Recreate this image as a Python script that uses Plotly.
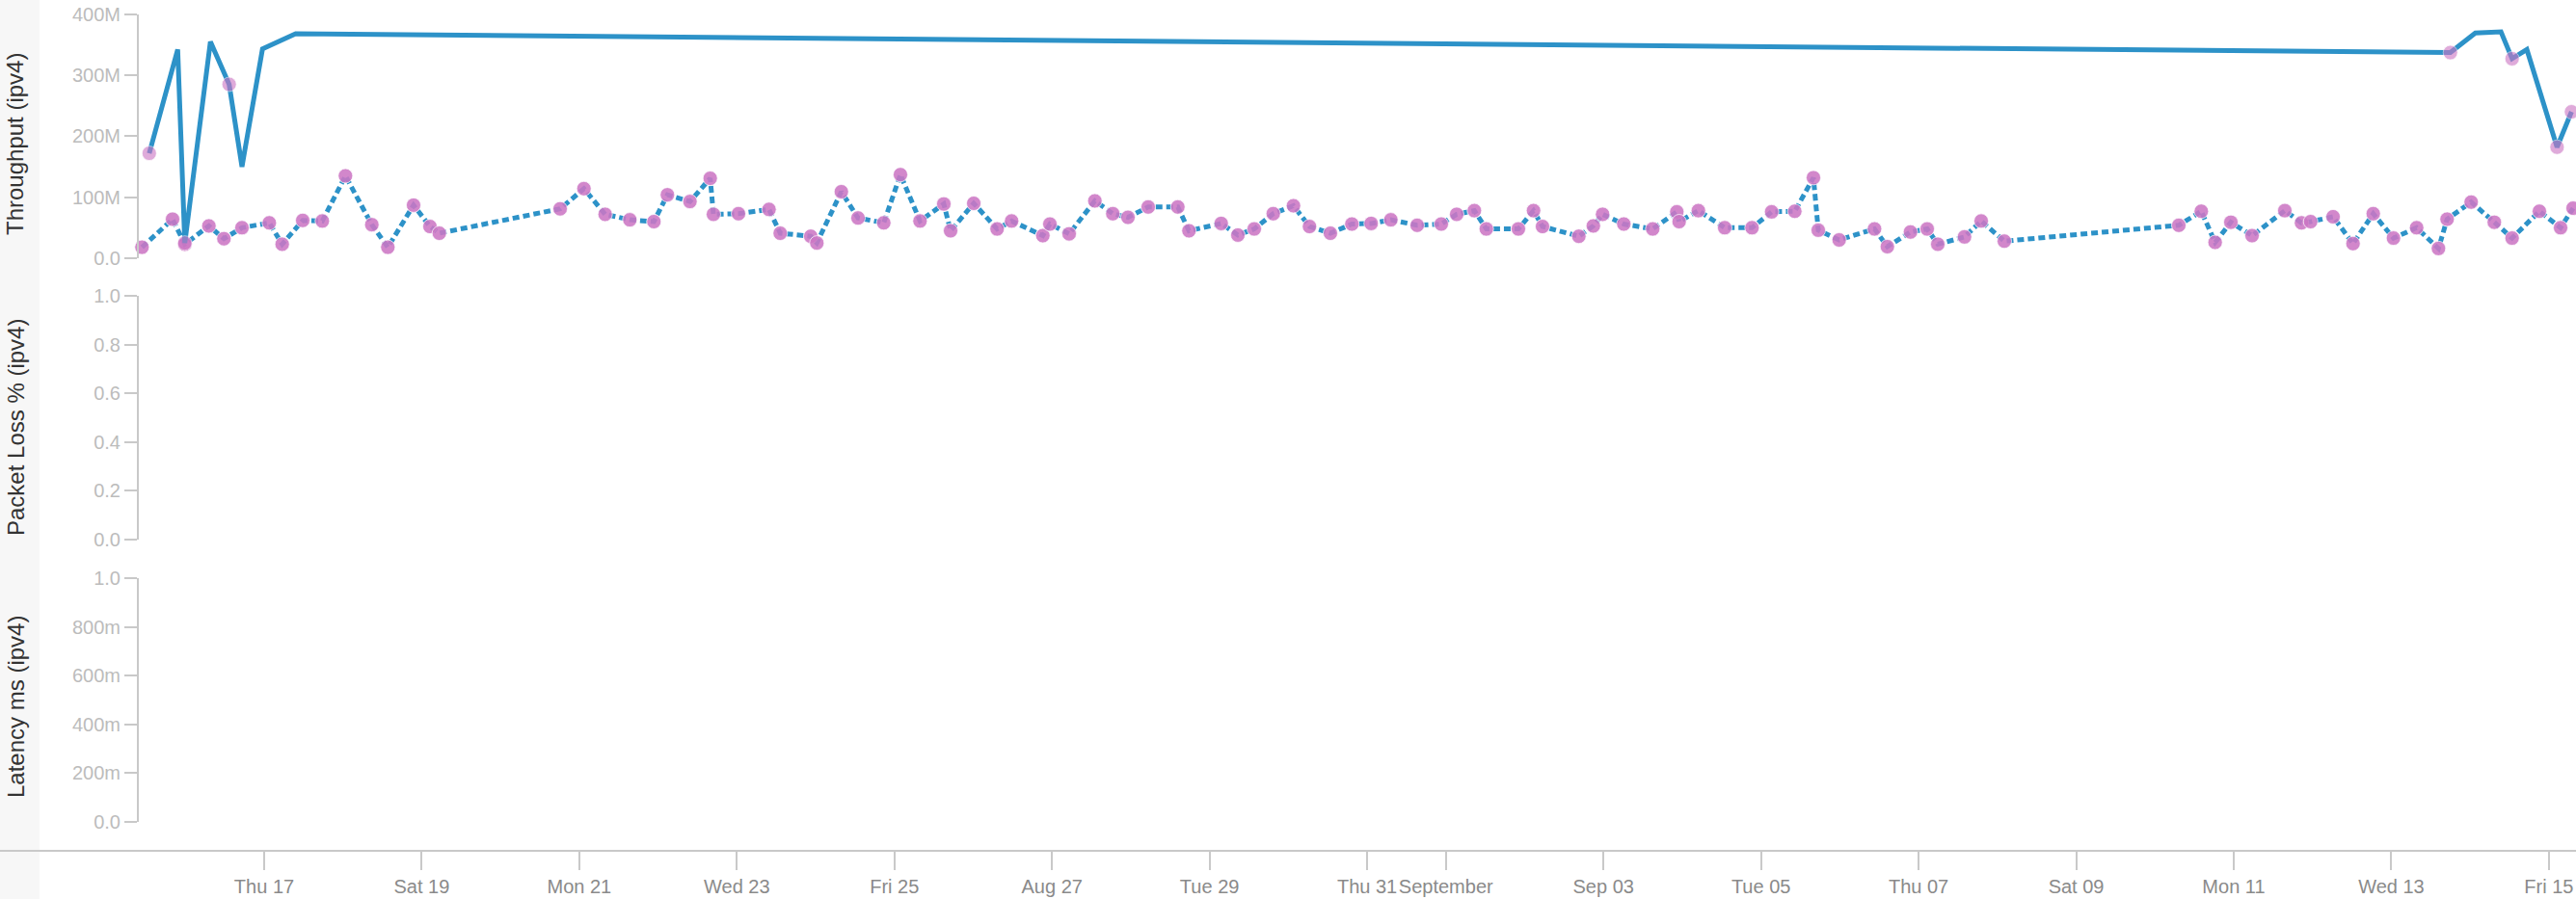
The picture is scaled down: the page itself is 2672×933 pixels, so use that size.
import plotly.graph_objects as go

# ---------------- data ----------------
# Solid throughput series (values in Mbit/s)
solid_times = ["2017-08-15 13:00", "2017-08-15 21:40", "2017-08-15 23:50", "2017-08-16 07:38",
               "2017-08-16 13:20", "2017-08-16 17:15", "2017-08-16 23:30", "2017-08-17 09:36",
               "2017-09-13 18:00", "2017-09-14 01:36", "2017-09-14 09:25", "2017-09-14 12:48",
               "2017-09-14 17:18", "2017-09-15 02:30", "2017-09-15 06:54"]
solid_vals = [172, 342, 25, 355, 285, 150, 343, 368, 337, 369, 371, 327, 342, 182, 240]
solid_marked = [1, 0, 1, 0, 1, 0, 0, 0, 1, 0, 0, 1, 0, 1, 1]

# Dotted throughput series (values in Mbit/s)
dotted_times = [
    "2017-08-15 10:47", "2017-08-15 20:06", "2017-08-15 23:50", "2017-08-16 07:10", "2017-08-16 11:45",
    "2017-08-16 17:15", "2017-08-17 01:34", "2017-08-17 05:30", "2017-08-17 11:45", "2017-08-17 17:43",
    "2017-08-18 00:46", "2017-08-18 08:48", "2017-08-18 13:41", "2017-08-18 21:31", "2017-08-19 02:31",
    "2017-08-19 05:22", "2017-08-20 18:10", "2017-08-21 01:25", "2017-08-21 07:53", "2017-08-21 15:24",
    "2017-08-21 22:44", "2017-08-22 02:51", "2017-08-22 09:43", "2017-08-22 15:53", "2017-08-22 16:52",
    "2017-08-23 00:30", "2017-08-23 09:48", "2017-08-23 13:13", "2017-08-23 22:31", "2017-08-24 00:22",
    "2017-08-24 07:50", "2017-08-24 12:55", "2017-08-24 20:45", "2017-08-25 01:50", "2017-08-25 07:48",
    "2017-08-25 15:03", "2017-08-25 17:07", "2017-08-26 00:10", "2017-08-26 07:17", "2017-08-26 11:42",
    "2017-08-26 21:13", "2017-08-26 23:22", "2017-08-27 05:14", "2017-08-27 13:04", "2017-08-27 18:32",
    "2017-08-27 23:09", "2017-08-28 05:19", "2017-08-28 14:20", "2017-08-28 17:44", "2017-08-29 03:33",
    "2017-08-29 08:38", "2017-08-29 13:37", "2017-08-29 19:24", "2017-08-30 01:34", "2017-08-30 06:27",
    "2017-08-30 12:49", "2017-08-30 19:22", "2017-08-31 01:14", "2017-08-31 07:14", "2017-08-31 15:15",
    "2017-08-31 22:36", "2017-09-01 03:17", "2017-09-01 08:40", "2017-09-01 12:19", "2017-09-01 22:05",
    "2017-09-02 02:42", "2017-09-02 05:26", "2017-09-02 16:30", "2017-09-02 20:55", "2017-09-02 23:44",
    "2017-09-03 06:12", "2017-09-03 15:00", "2017-09-03 22:21", "2017-09-03 23:03", "2017-09-04 04:55",
    "2017-09-04 12:56", "2017-09-04 21:15", "2017-09-05 03:14", "2017-09-05 10:17", "2017-09-05 15:58",
    "2017-09-05 17:26", "2017-09-05 23:48", "2017-09-06 10:34", "2017-09-06 14:29", "2017-09-06 21:32",
    "2017-09-07 02:37", "2017-09-07 05:51", "2017-09-07 13:59", "2017-09-07 19:04", "2017-09-08 02:07",
    "2017-09-10 07:16", "2017-09-10 14:07", "2017-09-10 18:20", "2017-09-10 23:08", "2017-09-11 05:35",
    "2017-09-11 15:34", "2017-09-11 20:39", "2017-09-11 23:25", "2017-09-12 06:16", "2017-09-12 12:20",
    "2017-09-12 18:30", "2017-09-13 00:40", "2017-09-13 07:43", "2017-09-13 14:22", "2017-09-13 17:00",
    "2017-09-14 00:20", "2017-09-14 07:23", "2017-09-14 12:48", "2017-09-14 21:07", "2017-09-15 03:34",
    "2017-09-15 07:23"]
dotted_vals = [
    18, 64, 23, 53, 32, 50, 58, 23, 62, 61,
    135, 55, 18, 87, 52, 41, 81, 114, 72, 63,
    60, 104, 93, 131, 72, 73, 80, 41, 36, 25,
    109, 66, 58, 137, 61, 89, 45, 90, 48, 61,
    37, 56, 40, 94, 73, 67, 84, 84, 45, 57,
    38, 48, 73, 86, 52, 41, 56, 57, 63, 54,
    56, 72, 78, 48, 48, 78, 52, 36, 53, 72,
    56, 48, 76, 60, 78, 50, 50, 76, 77, 132,
    46, 30, 48, 19, 43, 48, 23, 35, 61, 28,
    54, 77, 26, 59, 37, 78, 58, 60, 68, 24,
    73, 33, 50, 16, 64, 92, 59, 33, 77, 50,
    82]

# Axis ticks
x_tick_dates = ["2017-08-17", "2017-08-19", "2017-08-21", "2017-08-23", "2017-08-25", "2017-08-27",
                "2017-08-29", "2017-08-31", "2017-09-01", "2017-09-03", "2017-09-05", "2017-09-07",
                "2017-09-09", "2017-09-11", "2017-09-13", "2017-09-15"]
x_tick_text = ["Thu 17", "Sat 19", "Mon 21", "Wed 23", "Fri 25", "Aug 27", "Tue 29", "Thu 31",
               "September", "Sep 03", "Tue 05", "Thu 07", "Sat 09", "Mon 11", "Wed 13", "Fri 15"]
x_range = ["2017-08-13 15:32", "2017-09-15 08:16"]

thr_tick_vals = [0, 100, 200, 300, 400]
thr_tick_text = ["0.0", "100M", "200M", "300M", "400M"]
loss_tick_vals = [0, 0.2, 0.4, 0.6, 0.8, 1.0]
loss_tick_text = ["0.0", "0.2", "0.4", "0.6", "0.8", "1.0"]
lat_tick_vals = [0, 0.2, 0.4, 0.6, 0.8, 1.0]
lat_tick_text = ["0.0", "200m", "400m", "600m", "800m", "1.0"]

titles = ["Throughput (ipv4)", "Packet Loss % (ipv4)", "Latency ms (ipv4)"]

# ---------------- layout geometry ----------------
W, H = 2672, 933
FONT = "Liberation Sans, Arial, Helvetica, sans-serif"
LINE_BLUE = "#2d92c8"
DOT = "rgba(204,118,196,0.88)"
AXIS_GREY = "#c9c9c9"
YTICK_GREY = "#bcbcbc"
XTICK_GREY = "#8a8a8a"


def dom(top_px, bottom_px):
    return [1 - bottom_px / H, 1 - top_px / H]


thr_dom = dom(14.7, 268)
loss_dom = dom(307, 560)
lat_dom = dom(600, 853)
yaxis_pos = 143 / W
xaxis_pos = 1 - 883 / H

fig = go.Figure()

fig.add_trace(go.Scatter(
    x=dotted_times, y=dotted_vals, mode="lines+markers", yaxis="y", cliponaxis=False,
    line=dict(color=LINE_BLUE, width=5, dash="7px,4px"),
    marker=dict(size=15, color=DOT, line=dict(width=1, color="rgba(255,255,255,0.7)")),
    hoverinfo="x+y", showlegend=False))

fig.add_trace(go.Scatter(
    x=solid_times, y=solid_vals, mode="lines+markers", yaxis="y", cliponaxis=False,
    line=dict(color=LINE_BLUE, width=5),
    marker=dict(size=[15 if m else 0 for m in solid_marked], color=DOT,
                line=dict(width=[1 if m else 0 for m in solid_marked], color="rgba(255,255,255,0.7)")),
    hoverinfo="x+y", showlegend=False))

# empty panels
fig.add_trace(go.Scatter(x=[], y=[], yaxis="y2", showlegend=False))
fig.add_trace(go.Scatter(x=[], y=[], yaxis="y3", showlegend=False))


def yax(domain, rng, tv, tt):
    return dict(domain=domain, range=rng, anchor="free", position=yaxis_pos, automargin=False,
                tickvals=tv, ticktext=tt, showgrid=False, zeroline=False,
                showline=True, linecolor=AXIS_GREY, linewidth=2,
                ticks="outside", ticklen=13, tickwidth=2, tickcolor=AXIS_GREY,
                tickfont=dict(family=FONT, size=20, color=YTICK_GREY), fixedrange=True)


fig.update_layout(
    template="none",
    width=W, height=H, margin=dict(l=0, r=0, t=0, b=0, pad=0),
    paper_bgcolor="white", plot_bgcolor="rgba(0,0,0,0)",
    font=dict(family=FONT),
    xaxis=dict(domain=[0, 1], range=x_range, type="date", anchor="free", position=xaxis_pos,
               automargin=False, tickangle=0,
               tickvals=x_tick_dates, ticktext=x_tick_text, showgrid=False, zeroline=False,
               showline=True, linecolor=AXIS_GREY, linewidth=2,
               ticks="outside", ticklen=19, tickwidth=1.5, tickcolor=AXIS_GREY,
               tickfont=dict(family=FONT, size=20, color=XTICK_GREY), fixedrange=True),
    yaxis=yax(thr_dom, [0, 400], thr_tick_vals, thr_tick_text),
    yaxis2=yax(loss_dom, [0, 1], loss_tick_vals, loss_tick_text),
    yaxis3=yax(lat_dom, [0, 1], lat_tick_vals, lat_tick_text),
    shapes=[dict(type="rect", xref="paper", yref="paper", x0=0, x1=41 / W, y0=0, y1=1,
                 fillcolor="#f7f7f7", line=dict(width=0), layer="below")],
)

title_centers_px = [150, 444, 734]
for t, cy in zip(titles, title_centers_px):
    fig.add_annotation(text=t, xref="paper", yref="paper", x=16 / W, y=1 - cy / H,
                       xanchor="center", yanchor="middle", textangle=-90, showarrow=False,
                       font=dict(family=FONT, size=24, color="#333333"))

fig.write_html("out.html", config={"displayModeBar": False},
               post_script="document.body.style.margin='0';document.body.style.overflow='hidden';")
